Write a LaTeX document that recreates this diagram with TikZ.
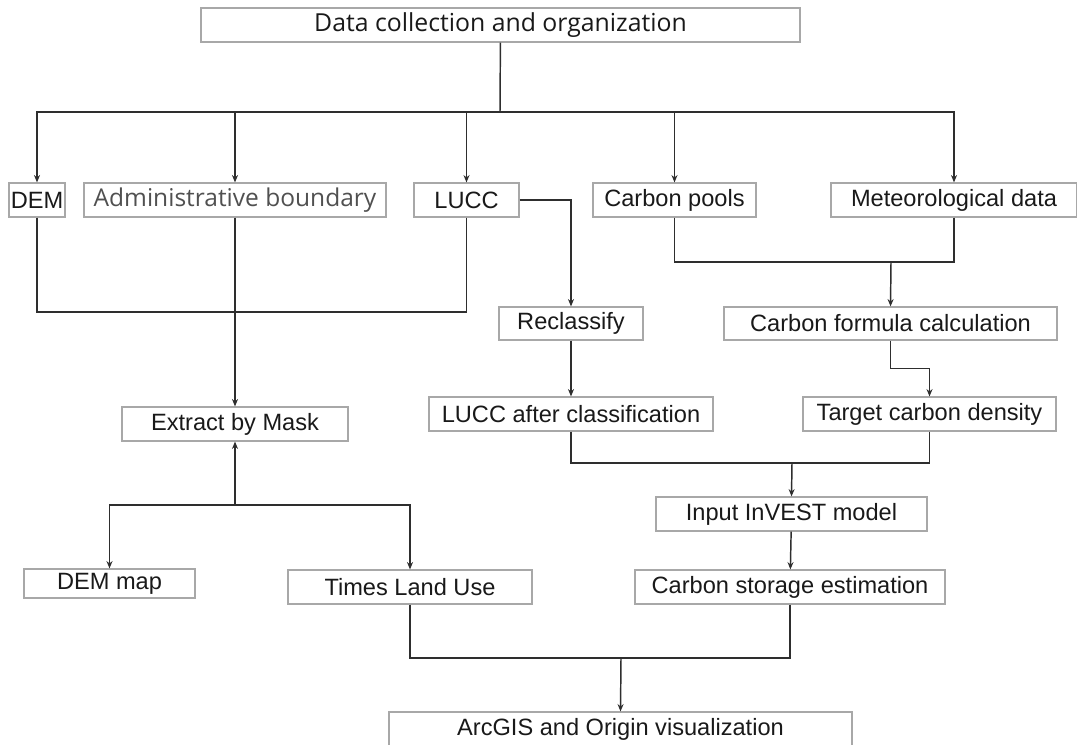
\documentclass[tikz,border=0pt]{standalone}
\usepackage{fontspec}
\setmainfont{Liberation Sans}
\newfontfamily\segoefont{Open Sans}
\usetikzlibrary{arrows.meta}

\definecolor{boxgray}{HTML}{A8A8A8}
\definecolor{linegray}{HTML}{2E2E2E}
\definecolor{textgray}{HTML}{505050}

\tikzset{
	box/.style={draw=boxgray, line width=0.9pt, inner sep=0pt, minimum height=25.5pt,
		font=\fontsize{17.7}{20}\selectfont, text=black!90},
	link/.style={draw=linegray, line width=1.1pt},
	arr/.style={link, -{Stealth[length=5.5pt, width=4.5pt]}},
}

\begin{document}
\begin{tikzpicture}[x=0.75pt, y=-0.75pt]
	\useasboundingbox (0,0) rectangle (1077,744);

	%% Source data
	\node [box, minimum width=449.25pt, font=\segoefont\fontsize{18.6}{20}\selectfont] (collect) at (500.5,25) {Data collection and organization};
	\node [box, minimum width=42pt] (dem) at (37,200) {DEM};
	\node [box, minimum width=226.5pt, text=textgray, font=\segoefont\fontsize{18.4}{20}\selectfont] (admin) at (235,200) {Administrative boundary};
	\node [box, minimum width=78.75pt] (lucc) at (466.5,200) {LUCC};
	\node [box, minimum width=122.25pt] (pools) at (674.5,200) {Carbon pools};
	\node [box, minimum width=184.5pt] (meteo) at (954,200) {Meteorological data};

	%% Processing
	\node [box, minimum width=108pt, minimum height=24.75pt] (reclass) at (571,323.5) {Reclassify};
	\node [box, minimum width=249.75pt, minimum height=24.75pt] (formula) at (890.5,323.5) {Carbon formula calculation};
	\node [box, minimum width=169.5pt] (extract) at (235,424) {Extract by Mask};
	\node [box, minimum width=213pt] (luccnew) at (571,414) {LUCC after classification};
	\node [box, minimum width=189.75pt] (density) at (929.5,414) {Target carbon density};
	\node [box, minimum width=203.25pt] (invest) at (791.5,514) {Input InVEST model};

	%% Results
	\node [box, minimum width=128.25pt, minimum height=21.75pt] (demmap) at (109.5,583.5) {DEM map};
	\node [box, minimum width=183pt] (landuse) at (410,587) {Times Land Use};
	\node [box, minimum width=232.5pt] (storage) at (790,587) {Carbon storage estimation};
	\node [box, minimum width=347.25pt] (visual) at (620.5,729) {ArcGIS and Origin visualization};

	%% Junctions
	\coordinate (split) at (500,112);
	\coordinate (maskin) at (235,312);
	\coordinate (poolmeet) at (891,262);
	\coordinate (modelin) at (792,463);
	\coordinate (maskout) at (235,505);
	\coordinate (finalin) at (621,658);

	%% Connectors
	\draw [link] (collect) -- (split);
	\foreach \n in {dem,admin,lucc,pools,meteo}
		\draw [arr] (split) -| (\n.north);

	\draw [link] (dem.south) |- (maskin);
	\draw [link] (lucc.south) |- (maskin);
	\draw [arr] (admin) -- (extract);

	\draw [arr] (lucc.east) -| (reclass.north);
	\draw [arr] (reclass) -- (luccnew);

	\draw [link] (pools.south) |- (poolmeet);
	\draw [link] (meteo.south) |- (poolmeet);
	\draw [arr] (poolmeet) -- (formula.north);
	\draw [arr] (formula.south) -- ++(0,28) -| (density.north);

	\draw [link] (luccnew.south) |- (modelin);
	\draw [link] (density.south) |- (modelin);
	\draw [arr] (modelin) -- (invest.north);
	\draw [arr] (invest) -- (storage);

	\draw [arr] (maskout) -- (extract.south);
	\draw [arr] (maskout) -| (demmap.north);
	\draw [arr] (maskout) -| (landuse.north);

	\draw [link] (landuse.south) |- (finalin);
	\draw [link] (storage.south) |- (finalin);
	\draw [arr] (finalin) -- (visual.north);
\end{tikzpicture}
\end{document}
